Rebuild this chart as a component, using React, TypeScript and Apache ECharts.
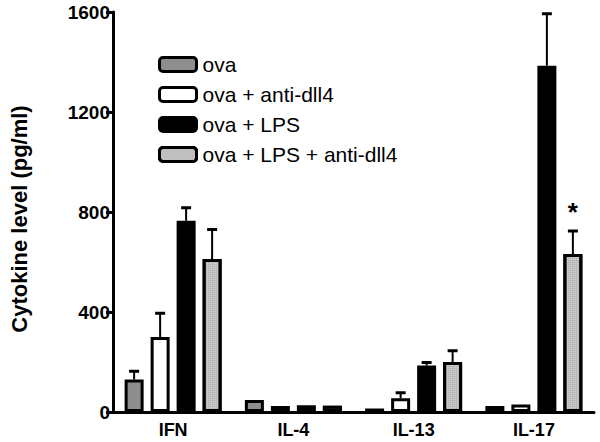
import React, { useEffect, useRef } from "react";
import * as echarts from "echarts";

const categories = ["IFN", "IL-4", "IL-13", "IL-17"];
const seriesNames = ["ova", "ova + anti-dll4", "ova + LPS", "ova + LPS + anti-dll4"];
const ovaValues = [130, 48, 14, 24];
const antiValues = [300, 24, 55, 30];
const lpsValues = [765, 27, 186, 1385];
const lpsAntiValues = [612, 25, 200, 632];
const ovaErr = [33, 0, 0, 0];
const antiErr = [95, 0, 22, 0];
const lpsErr = [52, 0, 12, 208];
const lpsAntiErr = [118, 0, 45, 92];
const lpsAntiMarks = ["", "", "", "*"];
const yTicks = [0, 400, 800, 1200, 1600];

const values = [ovaValues, antiValues, lpsValues, lpsAntiValues];
const errors = [ovaErr, antiErr, lpsErr, lpsAntiErr];
const marks = [[], [], [], lpsAntiMarks];
const fills = ["#8e8e8e", "#ffffff", "#000000", "#c6c6c6"];

const BAR_W = 19;
const GAP_PX = 7;

export default function App() {
  const ref = useRef<HTMLDivElement>(null);
  useEffect(() => {
    if (!ref.current) return;
    const chart = echarts.init(ref.current, null, { renderer: "svg" });
    const font = "Liberation Sans, Arial, sans-serif";
    const dots = {
      symbol: "rect",
      symbolSize: 1,
      color: "rgba(110,110,110,0.3)",
      dashArrayX: [1, 1],
      dashArrayY: [1, 1],
      rotation: 0,
    };

    const barSeries = seriesNames.map((name, i) => ({
      name,
      type: "bar",
      data: values[i],
      barWidth: BAR_W,
      barGap: (GAP_PX / BAR_W) * 100 + "%",
      itemStyle: {
        color: fills[i],
        borderColor: "#000",
        borderWidth: 3,
        decal: i === 3 ? dots : "none",
      },
      z: 3,
    }));

    const errSeries = seriesNames.map((name, i) => ({
      type: "custom",
      name: name + " err",
      z: 2,
      silent: true,
      data: categories.map((_, j) => [j, values[i][j], errors[i][j], j]),
      renderItem: (params: any, api: any) => {
        const idx = api.value(0);
        const v = api.value(1);
        const e = api.value(2);
        const offset = (i - 1.5) * (BAR_W + GAP_PX);
        const base = api.coord([idx, v]);
        const top = api.coord([idx, v + e]);
        const x = base[0] + offset;
        const children: any[] = [];
        if (e > 0) {
          children.push({
            type: "line",
            shape: { x1: x, y1: base[1], x2: x, y2: top[1] },
            style: { stroke: "#000", lineWidth: 2 },
          });
          children.push({
            type: "line",
            shape: { x1: x - 5, y1: top[1], x2: x + 5, y2: top[1] },
            style: { stroke: "#000", lineWidth: 3 },
          });
        }
        const m = (marks[i] as string[])[idx];
        if (m) {
          children.push({
            type: "text",
            style: {
              text: m,
              x: x,
              y: top[1] - 6,
              textAlign: "center",
              textVerticalAlign: "bottom",
              fontSize: 26,
              fontWeight: "bold",
              fontFamily: font,
              fill: "#000",
            },
          });
        }
        return { type: "group", children };
      },
    }));

    chart.setOption({
      animation: false,
      backgroundColor: "#fff",
      grid: { left: 110, right: 6, top: 12, bottom: 30, containLabel: false },
      legend: {
        orient: "vertical",
        left: 158,
        top: 54,
        padding: 0,
        itemWidth: 37,
        itemHeight: 14,
        itemGap: 9,
        selectedMode: false,
        data: seriesNames.map((n, i) => ({
          name: n,
          itemStyle: {
            color: fills[i],
            borderColor: "#000",
            borderWidth: 3,
            decal: i === 3 ? dots : "none",
          },
        })),
        textStyle: { fontSize: 21, lineHeight: 21, fontFamily: font, color: "#000", padding: [0, 0, 0, 1] },
      },
      xAxis: {
        type: "category",
        data: categories,
        axisLine: { lineStyle: { color: "#000", width: 3 } },
        axisTick: { alignWithLabel: true, length: 6, lineStyle: { width: 3, color: "#000" } },
        axisLabel: { fontSize: 18, fontWeight: "bold", fontFamily: font, color: "#000", margin: 9 },
      },
      yAxis: {
        type: "value",
        min: yTicks[0],
        max: yTicks[yTicks.length - 1],
        interval: yTicks[1] - yTicks[0],
        name: "Cytokine level (pg/ml)",
        nameLocation: "middle",
        nameGap: 83,
        nameTextStyle: {
          fontSize: 22,
          fontWeight: "bold",
          fontFamily: font,
          color: "#000",
          padding: [0, 14, 0, 0],
        },
        splitLine: { show: false },
        axisLine: { show: true, lineStyle: { color: "#000", width: 3 } },
        axisTick: { show: true, length: 7, lineStyle: { width: 3, color: "#000" } },
        axisLabel: {
          fontSize: 19,
          fontWeight: "bold",
          fontFamily: font,
          color: "#000",
          margin: 3,
          formatter: (v: number) => String(v),
        },
      },
      series: [...errSeries, ...barSeries],
    });
    return () => chart.dispose();
  }, []);
  return <div ref={ref} style={{ width: 600, height: 442, position: "absolute", left: 0, top: 0 }} />;
}
